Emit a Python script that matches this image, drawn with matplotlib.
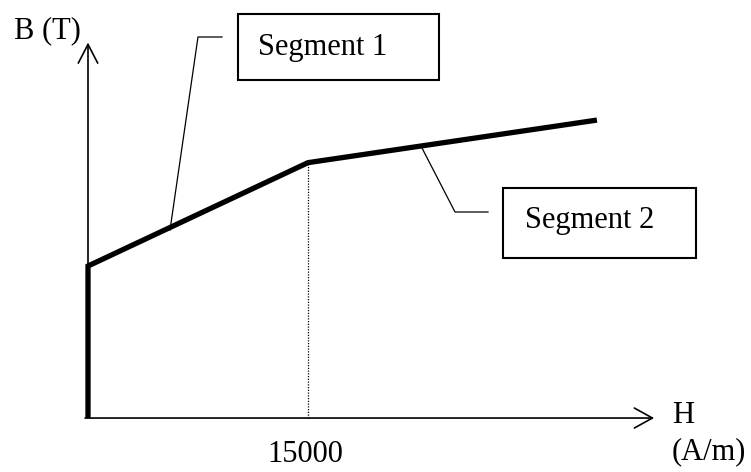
import numpy as np
import matplotlib
matplotlib.use("Agg")
import matplotlib.pyplot as plt
import matplotlib.transforms as mtransforms
from matplotlib.patches import Rectangle

# B-H curve (piecewise linear)
H = [0, 0, 15000, 34700]
B = [0, 1.0, 1.68, 1.96]
H_knee = 15000
B_knee = 1.68
labels = ["Segment 1", "Segment 2"]

plt.rcParams['font.family'] = ['Liberation Serif', 'DejaVu Serif']

W, Hpx = 751, 472
fig = plt.figure(figsize=(W / 100, Hpx / 100), dpi=100)
ax = fig.add_axes([0, 0, 1, 1])
ax.set_xlim(-6000, 45205)
ax.set_ylim(-0.355, 2.75)
ax.axis('off')

# pixel coords with origin at top-left, for annotation layout
px = mtransforms.Affine2D().scale(1, -1).translate(0, Hpx)

# axes with open arrow heads
ax.annotate('', xy=(0, 2.47), xytext=(0, 0),
            arrowprops=dict(arrowstyle='->,head_length=1.35,head_width=0.7', lw=1.2,
                            color='black', shrinkA=0, shrinkB=0))
ax.annotate('', xy=(38600, 0), xytext=(-200, 0),
            arrowprops=dict(arrowstyle='->,head_length=1.3,head_width=0.72', lw=1.2,
                            color='black', shrinkA=0, shrinkB=0))

# dotted line at knee
ax.plot([H_knee, H_knee], [0, B_knee], color='black', lw=0.9, ls=(0, (1, 1.2)))

# thick curve
ax.plot(H, B, color='black', lw=3.8, solid_capstyle='butt', solid_joinstyle='miter')

fs = 22
ax.text(14, 38, 'B (T)', transform=px, fontsize=fs, ha='left', va='baseline')
ax.text(672, 423, 'H', transform=px, fontsize=fs, ha='left', va='baseline')
ax.text(672, 459, '(A/m)', transform=px, fontsize=fs, ha='left', va='baseline')
ax.text(305, 462, str(H_knee), transform=px, fontsize=fs, ha='center', va='baseline')

# callout boxes
ax.add_patch(Rectangle((238, 14), 201, 66, transform=px, fill=False, lw=1.5, ec='black'))
ax.text(258, 55, labels[0], transform=px, fontsize=fs, ha='left', va='baseline')
ax.plot([170, 198, 222], [230, 37, 37], transform=px, color='black', lw=0.9)

ax.add_patch(Rectangle((503, 188), 193, 70, transform=px, fill=False, lw=1.5, ec='black'))
ax.text(525, 228, labels[1], transform=px, fontsize=fs, ha='left', va='baseline')
ax.plot([422, 455, 488], [148, 212, 212], transform=px, color='black', lw=0.9)

fig.savefig('out.png', dpi=100)
